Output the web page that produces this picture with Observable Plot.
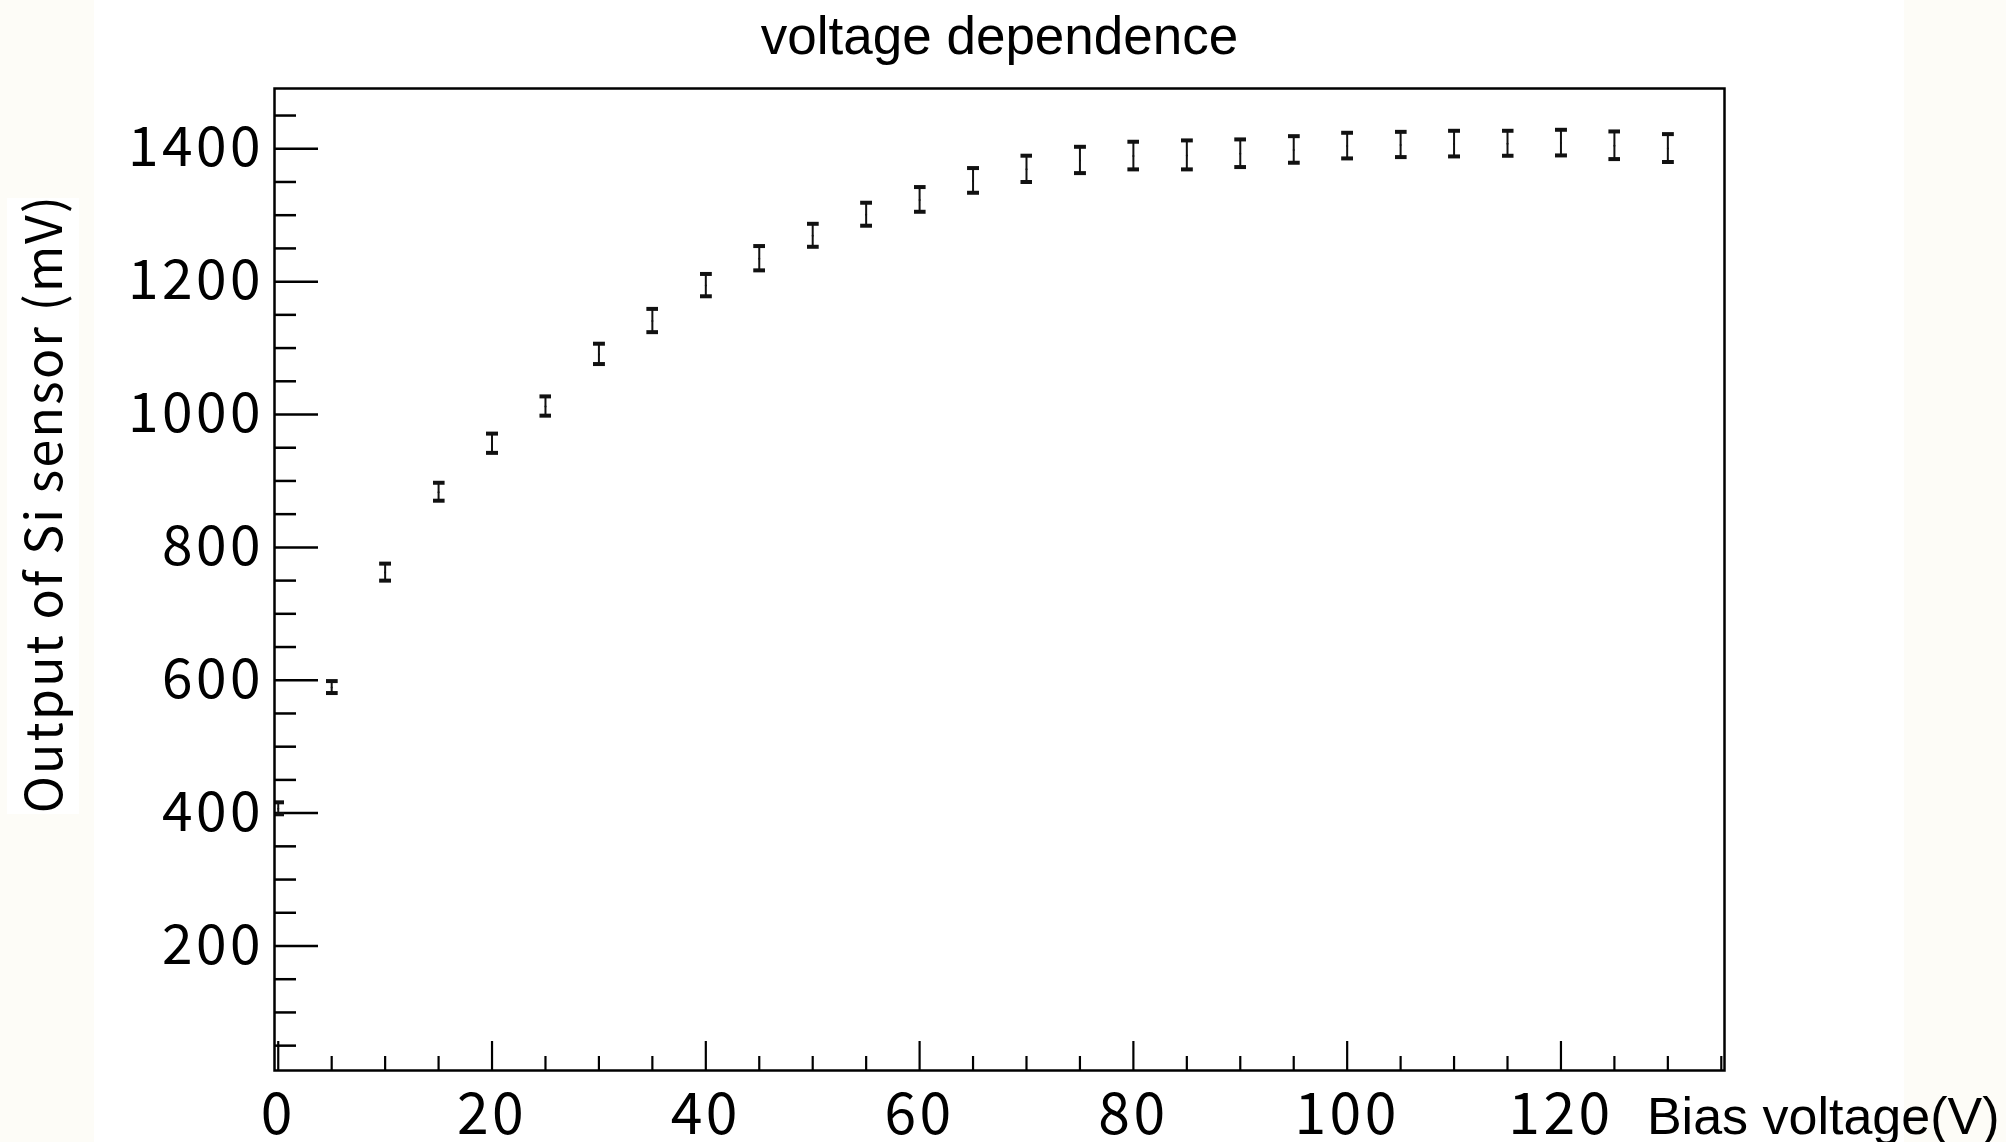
<!DOCTYPE html>
<html>
<head>
<meta charset="utf-8">
<script src="https://cdn.jsdelivr.net/npm/d3@7"></script>
<script src="https://cdn.jsdelivr.net/npm/@observablehq/plot@0.6"></script>
<style>
  html, body { margin: 0; padding: 0; }
  body { width: 2006px; height: 1142px; position: relative; overflow: hidden; background: #fdfcf7; }
  #white { position: absolute; left: 94px; top: 0; width: 1810px; height: 1142px; background: #ffffff; }
  #labelbox { position: absolute; left: 7px; top: 198px; width: 72px; height: 616px; background: #ffffff; }
  #chart { position: absolute; left: 0; top: 0; }
  svg { color: #000; }
  .ticklabels text { letter-spacing: 3.5px; }
  .ylabel text { letter-spacing: 2.3px; }
</style>
</head>
<body>
<div id="white"></div>
<div id="labelbox"></div>
<div id="chart"></div>
<script>
// ---- data ----
const biasVoltage = [0, 5, 10, 15, 20, 25, 30, 35, 40, 45, 50, 55, 60, 65, 70, 75, 80, 85, 90, 95, 100, 105, 110, 115, 120, 125, 130];
const sensorOutput = [406.5, 589, 762, 883, 956, 1012, 1090.5, 1140.7, 1194, 1234.5, 1269, 1300.7, 1323, 1351.6, 1369, 1382.4, 1389, 1390, 1392.5, 1398.2, 1404, 1405.7, 1407, 1407.5, 1408.5, 1404.5, 1400.3];
const outputError = [9, 9, 12.8, 13.5, 14.5, 14.5, 15.3, 17.5, 16.8, 18.3, 17.3, 17.3, 18.6, 18.6, 19.8, 19.8, 20.8, 21.8, 20.8, 20, 19.3, 19, 19.3, 18.8, 19.3, 20.8, 21];

const xMajorTicks = [0, 20, 40, 60, 80, 100, 120];
const xTickLabels = ["0", "20", "40", "60", "80", "100", "120"];
const xMinorTicks = [5, 10, 15, 25, 30, 35, 45, 50, 55, 65, 70, 75, 85, 90, 95, 105, 110, 115, 125, 130, 135];
const yMajorTicks = [200, 400, 600, 800, 1000, 1200, 1400];
const yTickLabels = ["200", "400", "600", "800", "1000", "1200", "1400"];
const yMinorTicks = [50, 100, 150, 250, 300, 350, 450, 500, 550, 650, 700, 750, 850, 900, 950, 1050, 1100, 1150, 1250, 1300, 1350, 1450];

const titleText = "voltage dependence";
const xLabelText = "Bias voltage(V)";
const yLabelText = "Output of Si sensor (mV)";

const points = biasVoltage.map((v, i) => ({v, out: sensorOutput[i], err: outputError[i]}));

const tickFont = "'Noto Sans CJK JP', 'Noto Sans', sans-serif";
const plainFont = "'Liberation Sans', Arial, sans-serif";

const xLabelMap = new Map(xMajorTicks.map((t, i) => [t, xTickLabels[i]]));
const yLabelMap = new Map(yMajorTicks.map((t, i) => [t, yTickLabels[i]]));

const chart = Plot.plot({
  width: 2006,
  height: 1142,
  marginLeft: 274,
  marginRight: 282,
  marginTop: 88,
  marginBottom: 72,
  style: {background: "transparent", overflow: "visible", color: "#000"},
  x: {domain: [-0.35, 135.3], label: null},
  y: {domain: [12.6, 1490.7], label: null},
  marks: [
    // inward minor / major ticks
    Plot.axisY(yMinorTicks, {tickSize: -22, tickFormat: () => "", strokeWidth: 2.5, label: null}),
    Plot.axisY(yMajorTicks, {tickSize: -44, tickFormat: () => "", strokeWidth: 2.5, label: null}),
    Plot.axisX(xMinorTicks, {tickSize: -14, tickFormat: () => "", strokeWidth: 2.2, label: null}),
    Plot.axisX(xMajorTicks, {tickSize: -29, tickFormat: () => "", strokeWidth: 2.2, label: null}),
    // tick labels
    Plot.axisY(yMajorTicks, {tickSize: 0, tickPadding: 10.5, tickFormat: d => yLabelMap.get(d), fontSize: 55, fontFamily: tickFont, label: null, className: "ticklabels"}),
    Plot.axisX(xMajorTicks, {tickSize: 0, tickPadding: 23, tickFormat: d => xLabelMap.get(d), fontSize: 57, fontFamily: tickFont, label: null, className: "ticklabels"}),
    // error bars
    Plot.ruleX(points, {x: "v", y1: d => d.out - d.err, y2: d => d.out + d.err, stroke: "#111", strokeWidth: 2, markerStart: "tick", markerEnd: "tick", clip: true}),
    Plot.dot(points, {x: "v", y: "out", r: 1, fill: "#111", clip: true}),
    Plot.frame({stroke: "#000", strokeWidth: 2.5}),
    // titles
    Plot.text([titleText], {text: d => d, frameAnchor: "top", lineAnchor: "bottom", dy: -35, fontSize: 53, fontFamily: plainFont, fill: "#000"}),
    Plot.text([xLabelText], {text: d => d, frameAnchor: "bottom-right", textAnchor: "end", lineAnchor: "bottom", dx: 275, dy: 63, fontSize: 52, fontFamily: plainFont, fill: "#000"}),
    Plot.text([yLabelText], {text: d => d, frameAnchor: "left", rotate: -90, textAnchor: "middle", lineAnchor: "middle", dx: -229, dy: -76, fontSize: 50, fontFamily: tickFont, fill: "#000", className: "ylabel"})
  ]
});
document.getElementById("chart").appendChild(chart);
</script>
</body>
</html>
